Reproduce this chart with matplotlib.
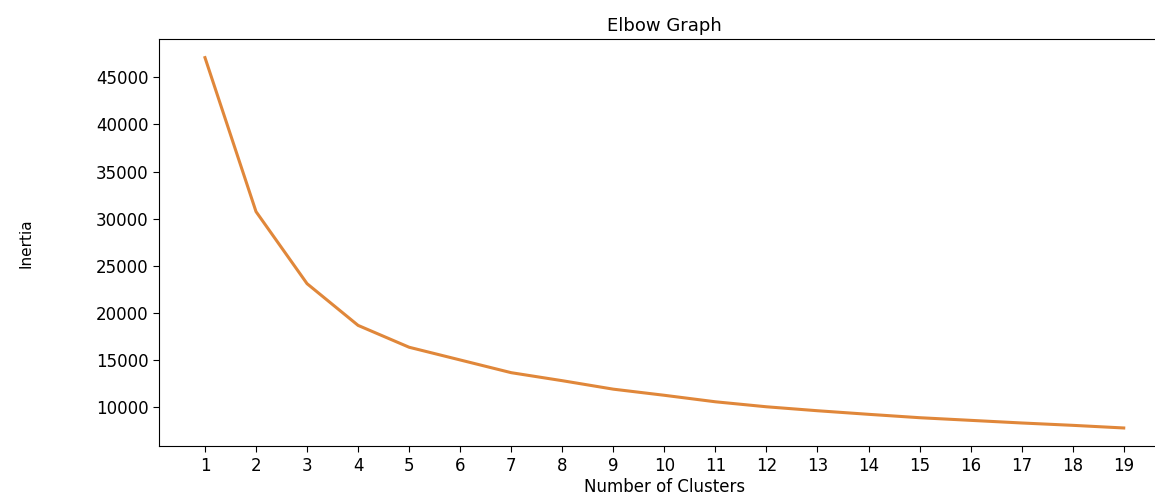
import numpy as np
import matplotlib
matplotlib.use('Agg')
import matplotlib.pyplot as plt

# number of clusters tried and the resulting inertia
clusters = list(range(1, 20))
inertia = [47100, 30750, 23100, 18670, 16350, 15000, 13650, 12800, 11900,
           11250, 10560, 10030, 9610, 9230, 8870, 8590, 8310, 8060, 7780]

plt.rcParams['font.family'] = 'DejaVu Sans'

fig = plt.figure(figsize=(11.55, 4.95), dpi=100)
# right edge of the axes runs past the picture, as in the original
ax = fig.add_axes([0.1377, 0.098, 0.875, 0.823])

ax.plot(clusters, inertia, color='#e0873a', linewidth=2.2)
ax.set_xticks(clusters)
ax.set_title('Elbow Graph', fontsize=13)
ax.set_xlabel('Number of Clusters', fontsize=12, labelpad=2)
ax.set_ylabel('Inertia', fontsize=11)
ax.yaxis.set_label_coords(-0.124, 0.5)
ax.tick_params(axis='both', labelsize=12, length=4)

fig.savefig('out.png', dpi=100)
